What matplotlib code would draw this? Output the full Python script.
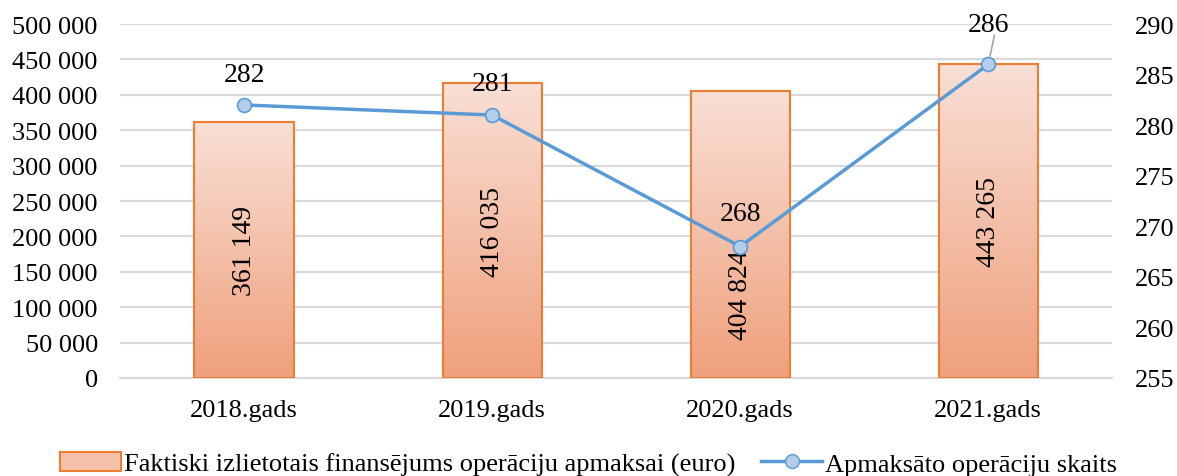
import numpy as np
import matplotlib
matplotlib.use("Agg")
import matplotlib.pyplot as plt
from matplotlib.colors import LinearSegmentedColormap
from matplotlib.patches import Patch
from matplotlib.lines import Line2D

# data
years = ["2018.gads", "2019.gads", "2020.gads", "2021.gads"]
funding = [361149, 416035, 404824, 443265]
operations = [282, 281, 268, 286]
funding_labels = ["361 149", "416 035", "404 824", "443 265"]

plt.rcParams["font.family"] = ["Liberation Serif", "DejaVu Serif"]
plt.rcParams["font.size"] = 19

fig = plt.figure(figsize=(11.77, 4.77), dpi=100)
ax = fig.add_axes([0.102, 0.2055, 0.843, 0.742])
ax2 = ax.twinx()

x = np.arange(len(years))
width = 0.4

# bars with vertical gradient
cmap = LinearSegmentedColormap.from_list("bar", ["#EFA07C", "#F9DFD5"])
bars = ax.bar(x, funding, width=width, facecolor="none", edgecolor="#ED7D31", linewidth=1.5, zorder=3)
grad = np.linspace(0, 1, 256).reshape(-1, 1)
for b in bars:
    x0, y0 = b.get_x(), b.get_y()
    w, h = b.get_width(), b.get_height()
    im = ax.imshow(grad, cmap=cmap, origin="lower", aspect="auto",
                   extent=[x0, x0 + w, y0, y0 + h], zorder=2)
    im.set_clip_path(b)

ax.set_xlim(-0.5, len(years) - 0.5)
ax.set_ylim(0, 500000)
ax.set_yticks(np.arange(0, 500001, 50000))
ax.set_yticklabels([f"{v:,}".replace(",", " ") for v in range(0, 500001, 50000)])
ax.set_xticks(x)
ax.set_xticklabels(years)
ax.grid(axis="y", color="#D9D9D9", linewidth=1.5, zorder=0)
ax.set_axisbelow(True)
for s in ["top", "left", "right"]:
    ax.spines[s].set_visible(False)
    ax2.spines[s].set_visible(False)
ax.spines["bottom"].set_color("#D9D9D9")
ax.spines["bottom"].set_linewidth(1.5)
ax2.spines["bottom"].set_visible(False)
ax.tick_params(axis="y", length=0, pad=16)
ax.tick_params(axis="x", length=0, pad=15)

# bar value labels (rotated)
label_y = [v / 2 for v in funding]
label_y[2] = 118000
for xi, yi, t in zip(x, label_y, funding_labels):
    ax.text(xi, yi, t, rotation=90, ha="center", va="center", fontsize=20, zorder=5)

# line on secondary axis
ax2.plot(x, operations, color="#5B9BD5", linewidth=2.5, marker="o", markersize=10,
         markerfacecolor="#B4CDEA", markeredgecolor="#5B9BD5", markeredgewidth=1.2, zorder=6)
ax2.set_ylim(255, 290)
ax2.set_yticks(np.arange(255, 291, 5))
ax2.tick_params(axis="y", length=0, pad=16)

offsets = [22, 23, 24, 29]
for xi, v, off in zip(x, operations, offsets):
    ax2.annotate(str(v), (xi, v), xytext=(0, off), textcoords="offset points",
                 ha="center", va="center", fontsize=20, zorder=7)
ax2.annotate("", (x[3], operations[3]), xytext=(x[3] + 0.025, 288.9),
             arrowprops=dict(arrowstyle="-", color="#A6A6A6", linewidth=1.2, shrinkA=0, shrinkB=6))

handles = [Patch(facecolor="#F4C1AA", edgecolor="#ED7D31", linewidth=1.5),
           Line2D([0], [0], color="#5B9BD5", linewidth=2.5, marker="o", markersize=10,
                  markerfacecolor="#B4CDEA", markeredgecolor="#5B9BD5")]
fig.legend(handles, ["Faktiski izlietotais finansējums operāciju apmaksai (euro)",
                     "Apmaksāto operāciju skaits"],
           loc="lower center", bbox_to_anchor=(0.5, -0.05), ncol=2, frameon=False,
           handlelength=2.3, handletextpad=0.1, columnspacing=1.0, fontsize=19)

fig.savefig("out.png", dpi=100)
